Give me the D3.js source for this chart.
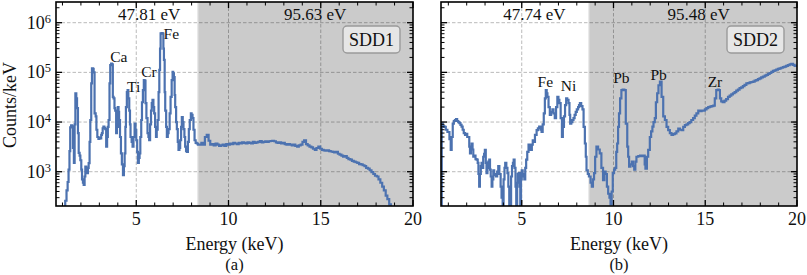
<!DOCTYPE html>
<html>
<head>
<meta charset="utf-8">
<title>SDD spectra</title>
<script src="https://d3js.org/d3.v7.min.js"></script>
<style>
  body { margin: 0; background: #fff; }
  svg text { font-family: "Liberation Serif", "DejaVu Serif", serif; fill: #111; }
</style>
</head>
<body>
<svg width="807" height="275"></svg>
<script>

// ---- data ----
var sdd1Energy = [1.05,1.15,1.22,1.28,1.33,1.38,1.42,1.47,1.52,1.57,1.62,1.66,1.70,1.75,1.79,1.84,1.88,1.93,1.97,2.02,
  2.06,2.11,2.15,2.20,2.24,2.29,2.33,2.38,2.42,2.47,2.51,2.56,2.60,2.65,2.69,2.74,2.80,2.84,2.89,2.95,
  3.00,3.05,3.10,3.14,3.18,3.22,3.27,3.32,3.37,3.42,3.46,3.50,3.55,3.59,3.64,3.68,3.73,3.77,3.82,3.86,
  3.91,3.95,4.00,4.04,4.07,4.12,4.17,4.22,4.28,4.33,4.37,4.41,4.44,4.49,4.53,4.57,4.62,4.66,4.69,4.75,
  4.80,4.85,4.91,4.96,5.00,5.05,5.09,5.14,5.18,5.22,5.27,5.31,5.36,5.41,5.45,5.50,5.55,5.61,5.66,5.70,
  5.75,5.80,5.84,5.88,5.93,5.97,6.02,6.07,6.11,6.16,6.21,6.25,6.29,6.32,6.38,6.43,6.47,6.50,6.54,6.57,
  6.62,6.66,6.71,6.75,6.81,6.86,6.92,6.97,7.00,7.04,7.08,7.11,7.16,7.20,7.25,7.29,7.34,7.38,7.43,7.47,
  7.52,7.56,7.61,7.65,7.70,7.75,7.80,7.85,7.90,7.96,8.00,8.05,8.10,8.16,8.22,8.28,8.34,
  8.43,8.53,8.63,8.72,8.82,8.92,9.01,9.11,9.20,9.30,9.40,9.49,9.59,9.68,9.78,9.88,9.97,
  10.07,10.17,10.26,10.36,10.45,10.55,10.65,10.74,10.84,10.93,11.03,11.13,11.22,11.32,11.41,11.51,11.61,11.70,11.80,11.89,
  11.99,12.09,12.18,12.28,12.37,12.47,12.57,12.66,12.76,12.85,12.95,13.05,13.14,13.24,13.33,13.43,13.53,13.62,13.72,13.81,
  13.91,14.01,14.10,14.20,14.29,14.39,14.49,14.58,14.68,14.77,14.87,14.97,15.06,15.16,15.25,15.35,15.45,15.54,15.64,15.73,
  15.83,15.93,16.02,16.12,16.21,16.31,16.41,16.50,16.60,16.69,16.79,16.89,16.98,17.08,17.17,17.27,17.37,17.46,17.56,17.65,
  17.75,17.85,17.94,18.04,18.13,18.23,18.33,18.42,18.52,18.61,18.71,18.80,18.90];
var sdd1Counts = [150,260,420,620,1100,2600,7800,8600,8200,3000,1500,9000,38000,30000,19000,6000,2400,2100,1700,1100,
  700,600,540,800,1260,1100,940,1200,1490,4000,11000,60000,120000,118000,100000,15000,13000,7000,5000,4600,
  4800,4700,5500,6000,7500,8100,7600,7200,3200,5000,8000,11000,60000,140000,150000,145000,32000,30000,19000,17000,
  6000,8000,20000,16000,11000,5000,2350,1400,850,1300,2350,8000,20000,40000,44000,30000,17000,9000,5000,4000,
  3200,5000,9300,7000,4300,2500,1500,1900,2350,5000,11000,25000,44000,70000,68000,24000,12000,6000,5000,4300,
  9000,17000,24000,28000,20000,15000,8000,5000,7000,11000,40000,112000,300000,610000,620000,600000,300000,178000,40000,17000,
  8000,5000,6000,7200,15000,32000,70000,102000,95000,80000,35000,20000,10000,7200,4000,2750,3000,4300,8000,12600,
  10000,7200,5000,3200,2600,2500,4000,7200,11000,15000,14000,12000,7000,4300,3800,3700,3500,
  3500,3800,3500,5000,5500,4200,3500,3600,3400,3700,3500,3300,3400,3500,3300,3600,3500,
  3700,3600,3800,3700,3600,3800,3700,3900,3800,3700,3900,3800,3700,4000,3800,3900,4000,4150,3900,4000,
  4100,4000,4100,4150,4200,4100,3900,3800,3900,3700,3800,3600,3500,3600,3500,3400,3500,3300,3200,3400,
  3500,4000,4300,3600,3400,3200,3100,2900,2750,3000,3200,2900,2750,2700,2650,2700,2600,2550,2500,2450,
  2500,2300,2200,2100,2000,2050,1900,1800,1750,1650,1600,1550,1500,1420,1400,1350,1300,1200,1150,1070,
  980,900,830,800,700,600,500,420,330,280,220,150,100];

var sdd2Energy = [0.60,0.64,0.69,0.78,0.86,0.95,1.00,1.06,1.13,1.18,1.24,1.30,1.36,1.42,1.48,1.54,1.60,1.66,1.72,1.78,
  1.84,1.91,1.97,2.03,2.09,2.14,2.18,2.23,2.27,2.32,2.36,2.42,2.48,2.54,2.60,2.64,2.68,2.72,2.77,2.81,
  2.86,2.90,2.95,2.99,3.04,3.08,3.13,3.18,3.23,3.27,3.31,3.36,3.40,3.45,3.50,3.55,3.60,3.66,3.72,3.78,
  3.85,3.90,3.96,4.01,4.06,4.10,4.16,4.22,4.27,4.32,4.37,4.42,4.47,4.52,4.56,4.61,4.66,4.70,4.75,4.79,
  4.83,4.88,4.92,4.96,5.00,5.05,5.10,5.14,5.19,5.24,5.30,5.37,5.43,5.49,5.55,5.60,5.66,5.72,5.81,5.88,
  5.95,6.02,6.08,6.14,6.20,6.26,6.31,6.36,6.40,6.46,6.53,6.60,6.67,6.73,6.80,6.87,6.94,7.00,7.05,7.12,
  7.19,7.24,7.30,7.36,7.42,7.48,7.55,7.60,7.64,7.70,7.76,7.82,7.88,7.94,8.00,8.07,8.12,8.17,8.24,8.31,
  8.37,8.44,8.49,8.53,8.60,8.66,8.75,8.82,8.88,8.94,9.00,9.07,9.16,9.25,9.34,9.43,9.50,9.57,9.64,9.71,
  9.78,9.84,9.90,9.96,10.03,10.09,10.15,10.20,10.25,10.30,10.36,10.43,10.50,10.59,10.67,10.75,10.80,10.85,10.92,11.00,
  11.06,11.13,11.19,11.25,11.35,11.45,11.55,11.63,11.70,11.74,11.82,11.89,11.98,12.05,12.12,12.18,12.25,12.31,12.38,12.45,
  12.53,12.62,12.71,12.80,12.89,12.98,13.07,13.16,13.25,13.34,13.43,13.53,13.62,13.71,13.80,13.89,13.98,14.07,14.15,14.24,
  14.34,14.43,14.52,14.62,14.71,14.80,14.89,14.98,15.07,15.16,15.25,15.34,15.44,15.52,15.60,15.68,15.74,15.80,15.87,15.95,
  16.05,16.14,16.24,16.33,16.42,16.51,16.60,16.69,16.78,16.87,16.96,17.05,17.14,17.24,17.33,17.42,17.51,17.60,17.69,17.78,
  17.87,17.96,18.05,18.14,18.24,18.33,18.42,18.51,18.60,18.69,18.78,18.87,18.96,19.05,19.14,19.23,19.32,19.41,19.50,19.60,
  19.69,19.78,19.87,19.96];
var sdd2Counts = [150,9300,8300,8000,7000,6300,6300,4500,2750,5000,9300,10500,11000,11500,10500,10000,9500,8800,8100,7000,
  6000,5500,5800,5000,5000,3200,2350,3000,3700,2800,2000,2100,1800,1750,1500,900,500,900,1300,1500,
  1200,2000,2300,2750,1500,940,1200,1600,1750,1100,800,500,700,1070,900,850,800,1000,1300,900,
  500,300,150,700,1200,1500,1200,940,500,200,150,800,1300,1500,1750,1200,500,150,600,900,
  940,500,150,700,1070,900,800,700,1200,1750,2500,3500,3000,2750,3500,4300,4000,5500,6900,7500,
  8100,7000,6300,9000,15000,30000,44000,38000,32000,20000,14000,16000,18000,15000,12000,20000,32000,28000,24000,12000,
  5000,8000,13000,22000,30000,28000,24000,14000,9300,10000,11000,12000,14000,16000,18000,20000,22000,24000,21000,18000,
  8000,3700,2000,1070,900,800,600,500,700,940,2000,3200,2800,2350,1200,680,1000,900,500,360,
  300,220,400,940,1100,1200,2500,3700,8000,15000,30000,44000,45000,44000,9300,3200,2000,1260,1400,1600,
  1300,1100,1600,2000,2050,2100,2050,2100,1400,1150,2000,2750,5000,6500,8100,10000,12000,25000,38000,55000,
  65000,32000,13000,11000,8000,6900,6000,5500,5700,5900,6500,7400,7000,6900,8000,8700,9000,9500,10000,11000,
  12000,13500,15000,17000,16500,17000,17000,18000,19000,20000,20500,21000,21500,30000,44000,45000,44000,30000,26000,25000,
  27000,29000,32000,34000,36000,38000,40000,43000,45000,48000,50000,53000,56000,60000,61000,63000,64000,65000,68000,70000,
  73000,76000,79000,82000,86000,89000,93000,97000,102000,107000,110000,114000,118000,120000,124000,127000,130000,135000,140000,145000,
  148000,142000,135000,130000];

var xMajorTicks = [5, 10, 15, 20];
var yMajorTicks = [1e3, 1e4, 1e5, 1e6];
var binWidths1 = [{e: 5.7, text: "47.81 eV"}, {e: 14.7, text: "95.63 eV"}];
var binWidths2 = [{e: 5.69, text: "47.74 eV"}, {e: 14.64, text: "95.48 eV"}];
var sdd1Peaks = [{name: "Ca", e: 3.59, c: 1.64e5}, {name: "Ti", e: 4.50, c: 4.1e4},
                 {name: "Cr", e: 5.27, c: 8.1e4}, {name: "Fe", e: 6.48, c: 4.6e5}];
var sdd2Peaks = [{name: "Fe", e: 5.86, c: 5.0e4}, {name: "Ni", e: 7.13, c: 4.3e4},
                 {name: "Pb", e: 9.98, c: 6.0e4}, {name: "Pb", e: 12.01, c: 6.9e4},
                 {name: "Zr", e: 15.13, c: 4.96e4}];
var split1 = 8.34, split2 = 8.66;

// ---- layout ----
var svg = d3.select("svg");
var plotTop = 2, plotBottom = 206;
var blue = "#4c72b0";

var y = d3.scaleLog().domain([204, 2.61e6]).range([plotBottom, plotTop]);

var panels = [
  {key: "a", x0: 56, x1: 413, dom: [0.65, 20], E: sdd1Energy, C: sdd1Counts, split: split1,
   bins: binWidths1, peaks: sdd1Peaks, tag: "SDD1", yLabels: true},
  {key: "b", x0: 441, x1: 797, dom: [0.6, 20], E: sdd2Energy, C: sdd2Counts, split: split2,
   bins: binWidths2, peaks: sdd2Peaks, tag: "SDD2", yLabels: false}
];

// minor log ticks
var yMinor = [];
[100, 1e3, 1e4, 1e5, 1e6].forEach(function(d) {
  for (var k = 2; k <= 9; k++) {
    var v = k * d;
    if (v > y.domain()[0] && v < y.domain()[1]) yMinor.push(v);
  }
});

panels.forEach(function(p) {
  var x = d3.scaleLinear().domain(p.dom).range([p.x0, p.x1]);
  var g = svg.append("g");
  var w = p.x1 - p.x0, h = plotBottom - plotTop;

  g.append("clipPath").attr("id", "clip-" + p.key)
    .append("rect").attr("x", p.x0).attr("y", plotTop).attr("width", w).attr("height", h);

  // shaded region (coarser binning)
  g.append("rect")
    .attr("x", x(p.split)).attr("y", plotTop)
    .attr("width", p.x1 - x(p.split)).attr("height", h)
    .attr("fill", "#cbcbcb");
  g.append("line")
    .attr("x1", x(p.split)).attr("x2", x(p.split))
    .attr("y1", plotTop).attr("y2", plotBottom)
    .attr("stroke", "#e2e2e2").attr("stroke-width", 1.2);

  // grid
  var grid = g.append("g").attr("stroke", "#000").attr("stroke-opacity", 0.35)
    .attr("stroke-width", 0.8).attr("stroke-dasharray", "3.5,2");
  grid.selectAll("line.gx").data(xMajorTicks.filter(function(t) { return t < p.dom[1]; }))
    .enter().append("line")
      .attr("x1", function(d) { return x(d); }).attr("x2", function(d) { return x(d); })
      .attr("y1", plotTop).attr("y2", plotBottom);
  grid.selectAll("line.gy").data(yMajorTicks)
    .enter().append("line")
      .attr("x1", p.x0).attr("x2", p.x1)
      .attr("y1", function(d) { return y(d); }).attr("y2", function(d) { return y(d); });

  // spectrum
  var pts = p.E.map(function(e, i) { return [e, p.C[i]]; });
  var line = d3.line()
    .x(function(d) { return x(d[0]); })
    .y(function(d) { return y(d[1]); })
    .curve(d3.curveStepAfter);
  g.append("path")
    .datum(pts)
    .attr("clip-path", "url(#clip-" + p.key + ")")
    .attr("d", line)
    .attr("fill", "none")
    .attr("stroke", blue)
    .attr("stroke-width", 2.2)
    .attr("stroke-linejoin", "miter");

  // bin width labels
  g.selectAll("text.bin").data(p.bins).enter().append("text")
    .attr("x", function(d) { return x(d.e); })
    .attr("y", 19.5)
    .attr("text-anchor", "middle")
    .attr("font-size", 17)
    .text(function(d) { return d.text; });

  // peak labels
  g.selectAll("text.peak").data(p.peaks).enter().append("text")
    .attr("x", function(d) { return x(d.e); })
    .attr("y", function(d) { return y(d.c); })
    .attr("font-size", 15.5)
    .text(function(d) { return d.name; });

  // detector tag box
  var bx = p.x1 - 70, by = 26;
  g.append("rect")
    .attr("x", bx).attr("y", by).attr("width", 57).attr("height", 27)
    .attr("rx", 4).attr("ry", 4)
    .attr("fill", "#e6e6e6").attr("stroke", "#9a9a9a").attr("stroke-width", 1.4);
  g.append("text")
    .attr("x", bx + 28.5).attr("y", by + 19.5)
    .attr("text-anchor", "middle").attr("font-size", 18)
    .text(p.tag);

  // frame
  g.append("rect")
    .attr("x", p.x0).attr("y", plotTop).attr("width", w).attr("height", h)
    .attr("fill", "none").attr("stroke", "#000").attr("stroke-width", 1.6);

  // ticks (inward, all sides)
  var ticks = g.append("g").attr("stroke", "#000");
  var xMinor = d3.range(1, 20).filter(function(t) { return t % 5 !== 0 && t > p.dom[0]; });
  [[xMajorTicks, 6, 1.3], [xMinor, 3.5, 1]].forEach(function(set) {
    set[0].forEach(function(t) {
      var xx = x(t);
      ticks.append("line").attr("x1", xx).attr("x2", xx)
        .attr("y1", plotBottom).attr("y2", plotBottom - set[1]).attr("stroke-width", set[2]);
      ticks.append("line").attr("x1", xx).attr("x2", xx)
        .attr("y1", plotTop).attr("y2", plotTop + set[1]).attr("stroke-width", set[2]);
    });
  });
  [[yMajorTicks, 6, 1.3], [yMinor, 3.5, 1]].forEach(function(set) {
    set[0].forEach(function(t) {
      var yy = y(t);
      ticks.append("line").attr("x1", p.x0).attr("x2", p.x0 + set[1])
        .attr("y1", yy).attr("y2", yy).attr("stroke-width", set[2]);
      ticks.append("line").attr("x1", p.x1).attr("x2", p.x1 - set[1])
        .attr("y1", yy).attr("y2", yy).attr("stroke-width", set[2]);
    });
  });

  // x tick labels
  g.selectAll("text.xt").data(xMajorTicks).enter().append("text")
    .attr("x", function(d) { return x(d); })
    .attr("y", 224.5)
    .attr("text-anchor", "middle")
    .attr("font-size", 18)
    .text(function(d) { return d; });

  // y tick labels
  if (p.yLabels) {
    yMajorTicks.forEach(function(t) {
      var txt = g.append("text")
        .attr("x", p.x0 - 5).attr("y", y(t) + 6)
        .attr("text-anchor", "end").attr("font-size", 18);
      txt.append("tspan").text("10");
      txt.append("tspan").attr("dy", -6).attr("font-size", 12.5).text(Math.round(Math.log10(t)));
    });
    g.append("text")
      .attr("transform", "translate(16," + 105 + ") rotate(-90)")
      .attr("text-anchor", "middle").attr("font-size", 18)
      .text("Counts/keV");
  }

  // axis title and caption
  g.append("text")
    .attr("x", (p.x0 + p.x1) / 2).attr("y", 250)
    .attr("text-anchor", "middle").attr("font-size", 18)
    .text("Energy (keV)");
  g.append("text")
    .attr("x", (p.x0 + p.x1) / 2).attr("y", 269.5)
    .attr("text-anchor", "middle").attr("font-size", 16.5)
    .text("(" + p.key + ")");
});

</script>
</body>
</html>
